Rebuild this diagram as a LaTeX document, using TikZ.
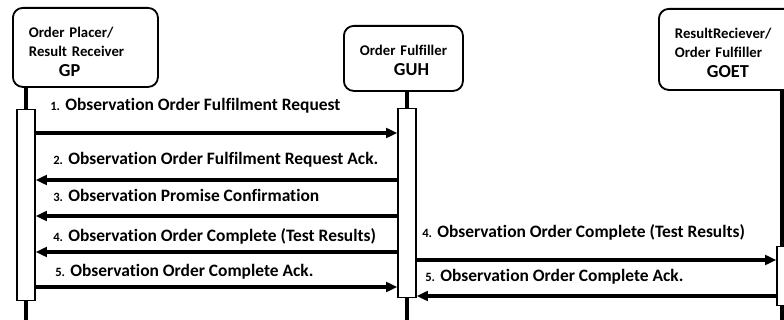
\documentclass[tikz,border=0pt]{standalone}
\usepackage{fontspec}
\setmainfont[Ligatures=NoCommon]{Carlito}
\usetikzlibrary{arrows.meta,positioning}
\newcommand{\msgno}[1]{{\fontsize{9}{10}\selectfont #1}}
\newcommand{\actor}[1]{{\fontsize{13}{15}\selectfont #1}}

\begin{document}
\begin{tikzpicture}[
  x=0.025cm, y=-0.025cm,
  font=\bfseries\fontsize{12.4}{14}\selectfont,
  head/.style={draw, line width=1.3pt, rounded corners=7pt, anchor=north west, align=left, inner xsep=0.4cm, inner ysep=0pt, font=\bfseries\fontsize{10.5}{13.5}\selectfont},
  act/.style={draw, line width=0.9pt, fill=white, minimum width=0.45cm, anchor=north, inner sep=0pt},
  life/.style={line width=2.2pt},
  msg/.style={line width=2.2pt, -{Triangle[length=0.28cm, width=0.24cm]}},
  lbl/.style={anchor=base west, inner sep=0pt}]
\clip (0,0) rectangle (784,320);
% participants
\node[head, minimum width=3.625cm, minimum height=1.975cm, text width=2.825cm] (gp) at (12,7) {\vrule height 14pt width 0pt Order Placer/\\Result Receiver\\[1pt]\hspace*{0.75cm}\actor{GP}};
\node[head, minimum width=2.975cm, minimum height=1.625cm, text width=2.175cm] (guh) at (343,25) {\vrule height 10pt width 0pt \mbox{Order Fulfiller}\\[1pt]\hspace*{0.85cm}\actor{GUH}};
\node[head, minimum width=3.625cm, minimum height=2.025cm, text width=2.825cm] (goet) at (658,8) {\vrule height 12pt width 0pt ResultReciever/\\Order Fulfiller\\[1pt]\hspace*{0.8cm}\actor{GOET}};
% lifelines
\coordinate (gpline) at (26,0);
\coordinate (guhline) at (407,0);
\coordinate (goetline) at (782,0);
\coordinate (bottom) at (0,320);
\draw[life] (gp.south -| gpline) -- (gpline |- bottom);
\draw[life] (guh.south -| guhline) -- (guhline |- bottom);
\draw[life] (goet.south -| goetline) -- (goetline |- bottom);
% activations
\node[act, minimum height=4.775cm] (gpact) at (26,109) {};
\node[act, minimum height=4.725cm] (guhact) at (407,108) {};
\node[act, minimum height=1.475cm, minimum width=0.25cm] (goetact) at (782,246) {};
% message rows
\coordinate (m1) at (0,133);
\coordinate (m2) at (0,180);
\coordinate (m3) at (0,216);
\coordinate (m4) at (0,252);
\coordinate (m5) at (0,287);
\coordinate (r4) at (0,260);
\coordinate (r5) at (0,296);
% messages
\draw[msg] (gpact.east |- m1) -- (guhact.west |- m1);
\draw[msg] (guhact.west |- m2) -- (gpact.east |- m2);
\draw[msg] (guhact.west |- m3) -- (gpact.east |- m3);
\draw[msg] (guhact.west |- m4) -- (gpact.east |- m4);
\draw[msg] (gpact.east |- m5) -- (guhact.west |- m5);
\draw[msg] (guhact.east |- r4) -- (goetact.west |- r4);
\draw[msg] (goetact.west |- r5) -- (guhact.east |- r5);
% labels
\node[lbl] (l1) at (50,111) {\msgno{1.} Observation Order Fulfilment Request};
\node[lbl] (l2) at (53,165) {\msgno{2.} Observation Order Fulfilment Request Ack.};
\node[lbl] (l3) at (53,202) {\msgno{3.} Observation Promise Confirmation};
\node[lbl] (l4) at (53,242) {\msgno{4.} Observation Order Complete (Test Results)};
\node[lbl] (l5) at (55,277) {\msgno{5.} Observation Order Complete Ack.};
\node[lbl] (k4) at (422,238) {\msgno{4.} Observation Order Complete (Test Results)};
\node[lbl] (k5) at (425,282) {\msgno{5.} Observation Order Complete Ack.};
\end{tikzpicture}
\end{document}
